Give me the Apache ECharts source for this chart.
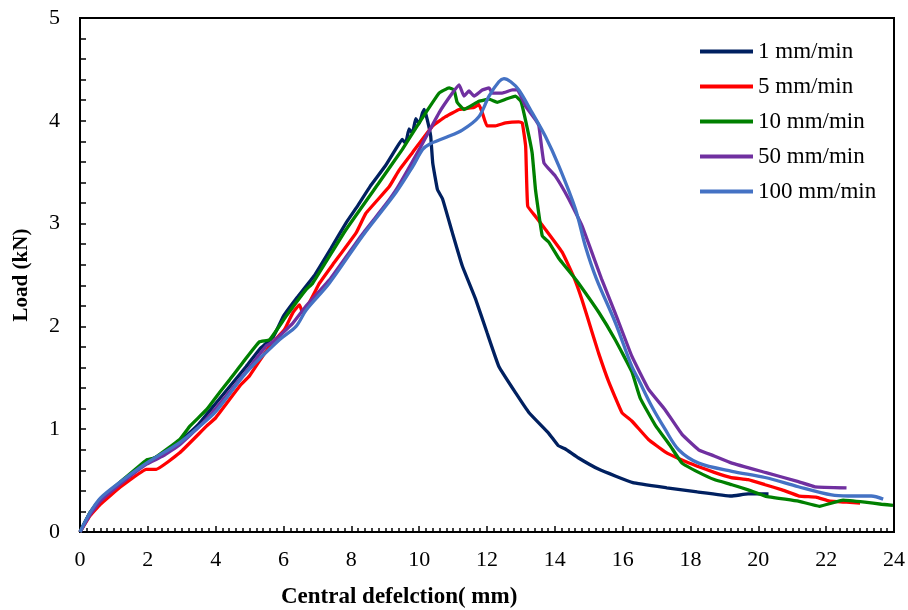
<!DOCTYPE html>
<html>
<head>
<meta charset="utf-8">
<script src="https://cdn.jsdelivr.net/npm/echarts@6/dist/echarts.min.js"></script>
<style>
html,body{margin:0;padding:0;background:#fff;}
#chart{width:908px;height:610px;}
</style>
</head>
<body>
<div id="chart"></div>
<script>
const seriesNames = ['1 mm/min', '5 mm/min', '10 mm/min', '50 mm/min', '100 mm/min'];
const seriesColors = ['#002060', '#FF0000', '#008000', '#7030A0', '#4472C4'];

const s1 = [[0,0],[0.3,0.19],[0.6,0.32],[1.2,0.48],[2,0.69],[2.5,0.77],[3,0.9],[3.5,1.05],[4,1.25],[4.5,1.45],[4.9,1.61],[5.3,1.78],[5.7,1.9],[6,2.1],[6.4,2.28],[6.9,2.49],[7.4,2.76],[7.85,3.01],[8.2,3.18],[8.55,3.36],[9.0,3.56],[9.3,3.72],[9.5,3.82],[9.6,3.78],[9.7,3.92],[9.8,3.88],[9.9,4.02],[10.0,3.97],[10.1,4.08],[10.15,4.11],[10.24,4.01],[10.34,3.85],[10.4,3.59],[10.54,3.33],[10.69,3.24],[10.98,2.91],[11.27,2.59],[11.67,2.26],[12.0,1.94],[12.35,1.61],[12.85,1.35],[13.24,1.16],[13.82,0.96],[14.1,0.84],[14.3,0.81],[14.7,0.72],[15.3,0.61],[16.3,0.48],[17.3,0.43],[18.2,0.39],[19.2,0.35],[19.7,0.37],[20.3,0.37]];

const s5 = [[0,0],[0.3,0.16],[0.6,0.27],[1.2,0.44],[1.96,0.61],[2.25,0.61],[2.94,0.77],[3.73,1.03],[4.0,1.11],[4.71,1.42],[5.0,1.52],[5.59,1.81],[6.03,1.97],[6.27,2.13],[6.47,2.21],[6.57,2.13],[7.06,2.42],[7.45,2.6],[8.14,2.91],[8.43,3.1],[9.12,3.36],[9.41,3.52],[9.8,3.69],[10.4,3.95],[10.78,4.04],[11.18,4.11],[11.62,4.13],[11.76,4.16],[11.86,4.08],[12.0,3.95],[12.25,3.95],[12.55,3.98],[12.94,3.99],[13.04,3.98],[13.14,3.75],[13.2,3.17],[13.43,3.07],[13.73,2.94],[14.22,2.72],[14.56,2.48],[14.8,2.26],[15.1,1.94],[15.29,1.74],[15.59,1.46],[15.98,1.16],[16.27,1.08],[16.76,0.9],[17.25,0.78],[17.75,0.70],[18.2,0.64],[18.7,0.58],[19.2,0.53],[19.7,0.51],[20.2,0.46],[20.7,0.41],[21.2,0.35],[21.7,0.34],[22.1,0.30],[22.6,0.29],[23.0,0.28]];

const s10 = [[0,0],[0.3,0.19],[0.6,0.32],[1.2,0.49],[1.96,0.70],[2.2,0.72],[2.94,0.9],[3.24,1.03],[3.73,1.19],[4.12,1.36],[4.41,1.48],[4.71,1.61],[5.29,1.85],[5.59,1.87],[6.08,2.1],[6.67,2.36],[6.86,2.42],[7.84,2.94],[8.82,3.40],[9.5,3.72],[10.0,3.98],[10.59,4.27],[10.88,4.32],[11.03,4.3],[11.12,4.18],[11.32,4.11],[11.76,4.19],[12.06,4.21],[12.3,4.18],[12.55,4.21],[12.84,4.24],[13.0,4.19],[13.14,4.0],[13.33,3.69],[13.43,3.33],[13.63,2.88],[13.82,2.82],[14.12,2.66],[14.56,2.48],[14.7,2.42],[15.29,2.14],[15.78,1.87],[16.27,1.56],[16.52,1.3],[16.96,1.04],[17.4,0.84],[17.75,0.67],[18.24,0.58],[18.7,0.51],[19.22,0.46],[19.7,0.41],[20.2,0.35],[21.18,0.3],[21.8,0.25],[22.5,0.31],[23.14,0.29],[23.63,0.27],[23.97,0.26]];

const s50 = [[0,0],[0.3,0.17],[0.6,0.3],[1.2,0.47],[1.96,0.66],[2.45,0.74],[2.94,0.85],[3.53,1.03],[4.0,1.2],[4.9,1.56],[5.49,1.81],[5.7,1.85],[6.27,2.03],[6.67,2.2],[7.35,2.45],[8.33,2.9],[9.0,3.18],[9.36,3.35],[10.0,3.72],[10.59,4.08],[10.98,4.27],[11.18,4.35],[11.32,4.24],[11.47,4.29],[11.62,4.24],[11.86,4.3],[12.06,4.32],[12.16,4.27],[12.45,4.27],[12.75,4.3],[12.9,4.3],[13.14,4.14],[13.43,4.01],[13.53,3.95],[13.68,3.59],[14.02,3.46],[14.41,3.24],[14.8,2.98],[15.38,2.46],[15.78,2.13],[16.27,1.71],[16.76,1.39],[17.25,1.19],[17.75,0.95],[18.24,0.8],[18.7,0.74],[19.22,0.67],[20.2,0.58],[21.18,0.49],[21.67,0.44],[22.6,0.43]];

const s100 = [[0,0],[0.3,0.19],[0.6,0.33],[1.2,0.49],[1.96,0.67],[2.94,0.87],[3.53,1.03],[4.0,1.17],[4.9,1.55],[5.88,1.87],[6.37,2.0],[6.67,2.16],[7.35,2.42],[8.33,2.88],[9.31,3.3],[9.8,3.55],[10.1,3.72],[10.29,3.77],[10.8,3.84],[11.27,3.91],[11.76,4.04],[12.06,4.24],[12.35,4.38],[12.5,4.41],[12.7,4.38],[12.94,4.3],[13.33,4.08],[13.72,3.85],[14.12,3.56],[14.61,3.14],[14.9,2.78],[15.23,2.46],[15.78,2.04],[16.27,1.61],[16.47,1.48],[16.86,1.22],[17.25,1.0],[17.65,0.8],[18.24,0.67],[19.22,0.59],[20.2,0.53],[21.18,0.44],[22.16,0.36],[22.65,0.35],[23.33,0.35],[23.68,0.32]];

const allData = [s1, s5, s10, s50, s100];

const xTitle = 'Central defelction( mm)';
const yTitle = 'Load (kN)';

const FONT = '"Liberation Serif", "Times New Roman", serif';

const chart = echarts.init(document.getElementById('chart'), null, {renderer: 'canvas'});

const option = {
  animation: false,
  backgroundColor: '#fff',
  grid: {left: 80, right: 12, top: 18, bottom: 78, show: true, borderColor: '#000', borderWidth: 2, backgroundColor: 'transparent'},
  legend: {
    orient: 'vertical',
    left: 700,
    top: 40,
    padding: 0,
    icon: 'rect',
    itemWidth: 53,
    itemHeight: 4,
    itemGap: 12,
    textStyle: {fontFamily: FONT, fontSize: 23, color: '#000', lineHeight: 22.5, padding: [0, 0, 0, 0]},
    data: seriesNames
  },
  xAxis: {
    type: 'value',
    min: 0, max: 24, interval: 2,
    axisLine: {show: true, lineStyle: {color: '#000', width: 2}},
    axisTick: {show: true, inside: true, length: 6, lineStyle: {color: '#000', width: 1.5}},
    minorTick: {show: true, splitNumber: 10, length: 4, lineStyle: {color: '#000', width: 1.5}},
    splitLine: {show: false},
    axisLabel: {fontFamily: FONT, fontSize: 22, color: '#000', margin: 17, showMinLabel: true, showMaxLabel: true}
  },
  yAxis: {
    type: 'value',
    min: 0, max: 5, interval: 1,
    axisLine: {show: true, lineStyle: {color: '#000', width: 2}},
    axisTick: {show: true, inside: true, length: 6, lineStyle: {color: '#000', width: 1.5}},
    minorTick: {show: true, splitNumber: 5, length: 6, lineStyle: {color: '#000', width: 1.5}},
    splitLine: {show: false},
    axisLabel: {fontFamily: FONT, fontSize: 22, color: '#000', margin: 20},
    name: yTitle,
    nameLocation: 'middle',
    nameGap: 48,
    nameTextStyle: {fontFamily: FONT, fontSize: 21, fontWeight: 'bold', color: '#000'}
  },
  graphic: [{
    type: 'text',
    left: 281,
    top: 586,
    style: {text: xTitle, font: 'bold 23px ' + FONT, fill: '#000'}
  }],
  series: seriesNames.map((name, i) => ({
    name: name,
    type: 'line',
    data: allData[i],
    showSymbol: false,
    symbol: 'none',
    smooth: i === 4 ? 0.3 : 0.1,
    lineStyle: {color: seriesColors[i], width: 3.3},
    itemStyle: {color: seriesColors[i]},
    z: 3 + i
  }))
};
chart.setOption(option);
</script>
</body>
</html>
